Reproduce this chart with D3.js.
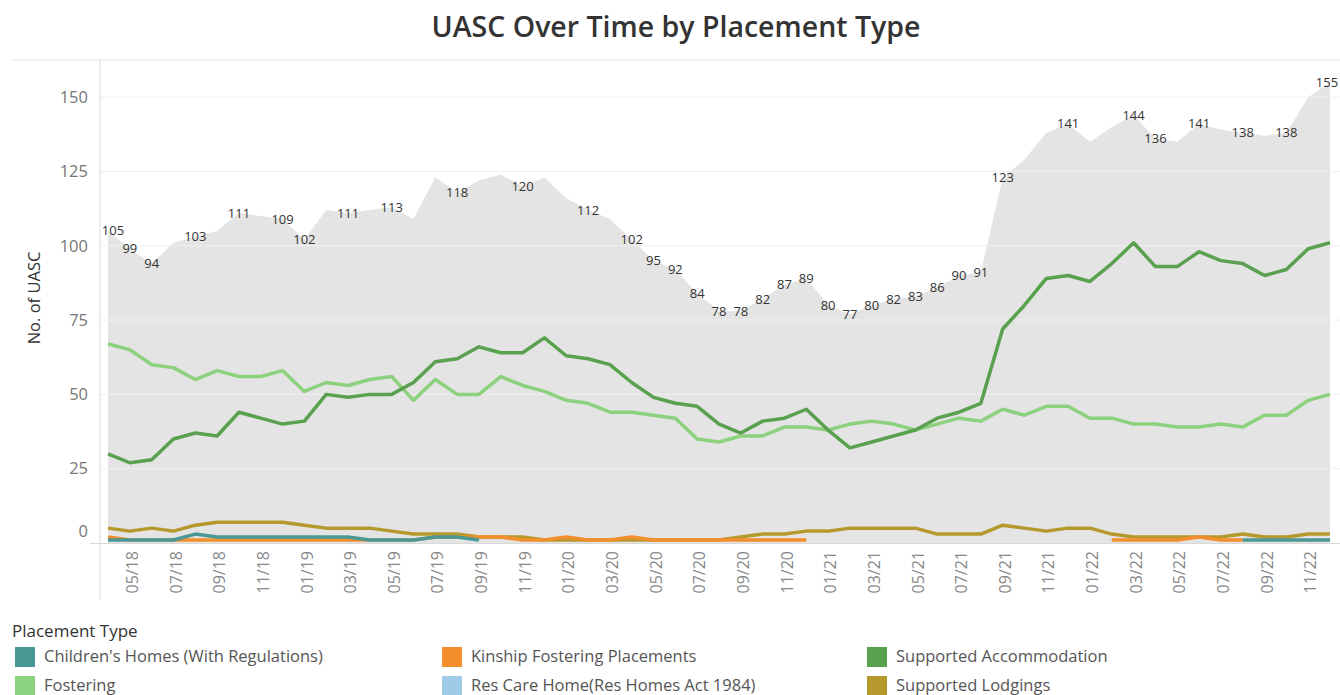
<html>

<head>
  <script src="https://d3js.org/d3.v7.min.js"></script>
  <style>
    body { margin: 0; background: #fff; }
    text { font-family: "Open Sans", "Noto Sans", sans-serif; }
  </style>
</head>

<body>
  <svg id="chart" width="1340" height="695"></svg>

  <script>
    // months shown on the x axis (04/18 .. 12/22)
    const months = ["04/18", "05/18", "06/18", "07/18", "08/18", "09/18", "10/18", "11/18", "12/18",
      "01/19", "02/19", "03/19", "04/19", "05/19", "06/19", "07/19", "08/19", "09/19", "10/19", "11/19", "12/19",
      "01/20", "02/20", "03/20", "04/20", "05/20", "06/20", "07/20", "08/20", "09/20", "10/20", "11/20", "12/20",
      "01/21", "02/21", "03/21", "04/21", "05/21", "06/21", "07/21", "08/21", "09/21", "10/21", "11/21", "12/21",
      "01/22", "02/22", "03/22", "04/22", "05/22", "06/22", "07/22", "08/22", "09/22", "10/22", "11/22", "12/22"];

    // total UASC (grey area)
    const total = [105, 99, 94, 101, 103, 105, 111, 110, 109, 102, 112, 111, 112, 113, 109, 123, 118, 122, 124, 120,
      123, 116, 112, 109, 102, 95, 92, 84, 78, 78, 82, 87, 89, 80, 77, 80, 82, 83, 86, 90,
      91, 123, 129, 138, 141, 135, 140, 144, 136, 135, 141, 139, 138, 137, 138, 150, 155];

    // months that carry a total label
    const labelled = [0, 1, 2, 4, 6, 8, 9, 11, 13, 16, 19, 22, 24, 25, 26, 27, 28, 29, 30, 31, 32, 33, 34, 35,
      36, 37, 38, 39, 40, 41, 44, 47, 48, 50, 52, 54, 56];

    const supportedAccommodation = [30, 27, 28, 35, 37, 36, 44, 42, 40, 41, 50, 49, 50, 50, 54, 61, 62, 66, 64, 64,
      69, 63, 62, 60, 54, 49, 47, 46, 40, 37, 41, 42, 45, 38, 32, 34, 36, 38, 42, 44,
      47, 72, 80, 89, 90, 88, 94, 101, 93, 93, 98, 95, 94, 90, 92, 99, 101];

    const fostering = [67, 65, 60, 59, 55, 58, 56, 56, 58, 51, 54, 53, 55, 56, 48, 55, 50, 50, 56, 53,
      51, 48, 47, 44, 44, 43, 42, 35, 34, 36, 36, 39, 39, 38, 40, 41, 40, 38, 40, 42,
      41, 45, 43, 46, 46, 42, 42, 40, 40, 39, 39, 40, 39, 43, 43, 48, 50];

    const supportedLodgings = [5, 4, 5, 4, 6, 7, 7, 7, 7, 6, 5, 5, 5, 4, 3, 3, 3, 2, 2, 2,
      1, 1, 1, 1, 1, 1, 1, 1, 1, 2, 3, 3, 4, 4, 5, 5, 5, 5, 3, 3,
      3, 6, 5, 4, 5, 5, 3, 2, 2, 2, 2, 2, 3, 2, 2, 3, 3];

    const kinship = [2, 1, 1, 1, 1, 1, 1, 1, 1, 1, 1, 1, 1, 1, 1, 2, 2, 2, 2, 1,
      1, 2, 1, 1, 2, 1, 1, 1, 1, 1, 1, 1, 1, null, null, null, null, null, null, null,
      null, null, null, null, null, null, 1, 1, 1, 1, 2, 1, 1, null, null, null, null];

    const childrensHomes = [1, 1, 1, 1, 3, 2, 2, 2, 2, 2, 2, 2, 1, 1, 1, 2, 2, 1, null, null,
      null, null, null, null, null, null, null, null, null, null, null, null, null, null, null, null, null, null, null, null,
      null, null, null, null, null, null, null, null, null, null, null, null, 1, 1, 1, 1, 1];

    const yTicks = [0, 25, 50, 75, 100, 125, 150];

    const legendNames = ["Children's Homes (With Regulations)", "Kinship Fostering Placements", "Supported Accommodation",
      "Fostering", "Res Care Home(Res Homes Act 1984)", "Supported Lodgings"];
    const legendColors = ["#499894", "#f28e2b", "#59a14f", "#8cd17d", "#a0cbe8", "#b6992d"];

    const svg = d3.select("#chart");

    const plotLeft = 100, plotRight = 1340, plotTop = 60, plotBottom = 543;

    const x = d3.scalePoint().domain(months).range([108, 1330]);
    const y = d3.scaleLinear().domain([0, 162.5]).range([plotBottom, plotTop]);

    // title
    svg.append("text")
      .attr("x", 676).attr("y", 37)
      .attr("text-anchor", "middle")
      .attr("font-size", 28.5).attr("font-weight", 600)
      .attr("fill", "#333")
      .text("UASC Over Time by Placement Type");

    // frame
    svg.append("line").attr("x1", 12).attr("x2", plotRight).attr("y1", plotTop).attr("y2", plotTop)
      .attr("stroke", "#e3e3e3");

    // grey total area
    const area = d3.area()
      .x((d, i) => x(months[i]))
      .y0(y(0))
      .y1(d => y(d));
    svg.append("path").datum(total)
      .attr("d", area)
      .attr("fill", "#e4e4e4");

    // gridlines
    svg.append("g").selectAll("line").data(yTicks.filter(d => d > 0))
      .join("line")
      .attr("x1", plotLeft).attr("x2", plotRight)
      .attr("y1", d => y(d)).attr("y2", d => y(d))
      .attr("stroke", "#f0f0f0");

    // y axis
    const yAxis = svg.append("g")
      .attr("transform", `translate(${plotLeft},0)`)
      .call(d3.axisLeft(y).tickValues(yTicks).tickSize(0).tickPadding(12));
    yAxis.select(".domain").remove();
    yAxis.selectAll("text")
      .attr("font-size", 16.5).attr("fill", "#777")
      .attr("font-family", "'Open Sans', sans-serif")
      .attr("transform", d => d === 0 ? "translate(0,-12)" : null);

    svg.append("line").attr("x1", plotLeft).attr("x2", plotLeft).attr("y1", plotTop).attr("y2", 600)
      .attr("stroke", "#d9d9d9");
    svg.append("line").attr("x1", 90).attr("x2", plotRight).attr("y1", plotBottom + 0.5).attr("y2", plotBottom + 0.5)
      .attr("stroke", "#d9d9d9");

    svg.append("text")
      .attr("transform", "translate(40,298) rotate(-90)")
      .attr("text-anchor", "middle")
      .attr("font-size", 16.5).attr("fill", "#333")
      .text("No. of UASC");

    // x axis
    const xAxis = svg.append("g")
      .attr("transform", `translate(0,${plotBottom})`)
      .call(d3.axisBottom(x).tickValues(months.filter((d, i) => i % 2 === 1)).tickSize(0).tickPadding(0));
    xAxis.select(".domain").remove();
    xAxis.selectAll("text")
      .attr("font-size", 16).attr("fill", "#888")
      .attr("font-family", "'Open Sans', sans-serif")
      .attr("text-anchor", "end")
      .attr("transform", "rotate(-90)")
      .attr("x", -8).attr("y", 2).attr("dy", "0.35em");

    // series lines
    const line = d3.line()
      .defined(d => d !== null)
      .x((d, i) => x(months[i]))
      .y(d => y(d));

    const series = [
      { values: supportedLodgings, color: legendColors[5] },
      { values: kinship, color: legendColors[1] },
      { values: childrensHomes, color: legendColors[0] },
      { values: fostering, color: legendColors[3] },
      { values: supportedAccommodation, color: legendColors[2] }
    ];

    svg.append("g").selectAll("path").data(series)
      .join("path")
      .attr("d", d => line(d.values))
      .attr("fill", "none")
      .attr("stroke", d => d.color)
      .attr("stroke-width", 3.5)
      .attr("stroke-linejoin", "round");

    // total labels
    svg.append("g").selectAll("text").data(labelled)
      .join("text")
      .attr("x", i => Math.min(Math.max(x(months[i]), plotLeft + 13), plotRight - 13))
      .attr("y", i => y(total[i]))
      .attr("dy", "0.35em")
      .attr("text-anchor", "middle")
      .attr("font-size", 13).attr("fill", "#333")
      .text(i => total[i]);

    // legend
    svg.append("text")
      .attr("x", 12).attr("y", 637)
      .attr("font-size", 17).attr("fill", "#333")
      .text("Placement Type");

    const legend = svg.append("g").selectAll("g").data(legendNames)
      .join("g")
      .attr("transform", (d, i) => `translate(${[15, 442, 867][i % 3]},${647 + Math.floor(i / 3) * 29})`);
    legend.append("rect")
      .attr("width", 20).attr("height", 20)
      .attr("fill", (d, i) => legendColors[i]);
    legend.append("text")
      .attr("x", 29).attr("y", 15)
      .attr("font-size", 16.5).attr("fill", "#555")
      .text(d => d);
  </script>
</body>

</html>
